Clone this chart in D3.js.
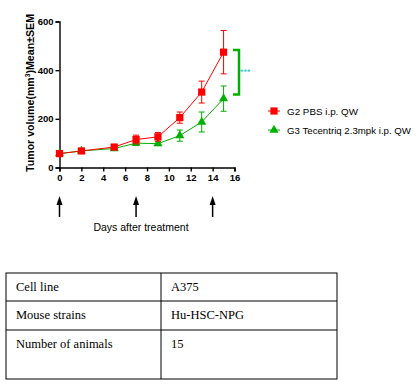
<!DOCTYPE html>
<meta charset="utf-8">
<style>
body { margin: 0; background: #fff; }
svg { display: block; font-family: "Liberation Sans", Arial, sans-serif; }
.tick text { font-weight: bold; font-size: 9.5px; }
</style>
<body>
<script src="https://d3js.org/d3.v7.min.js"></script>
<svg width="420" height="386"></svg>
<script>

var days = [0, 2, 5, 7, 9, 11, 13, 15];
var pbsMean = [57, 68, 84, 115, 126, 205, 310, 474];
var pbsSem  = [6, 5, 10, 18, 18, 23, 45, 89];
var tecMean = [57, 68, 78, 100, 98, 131, 187, 283];
var tecSem  = [5, 5, 8, 10, 8, 23, 41, 52];
var doseDays = [0, 7, 14];
var xTicks = [0, 2, 4, 6, 8, 10, 12, 14, 16];
var yTicks = [0, 200, 400, 600];
var legendNames = ["G2 PBS i.p. QW", "G3 Tecentriq 2.3mpk i.p. QW"];
var tableRows = [["Cell line", "A375"], ["Mouse strains", "Hu-HSC-NPG"], ["Number of animals", "15"]];

var svg = d3.select("svg");

var x = d3.scaleLinear().domain([0, 16]).range([59.5, 234.5]);
var y = d3.scaleLinear().domain([0, 600]).range([167.5, 21.5]);

// axes
svg.append("g")
    .attr("transform", "translate(59.5,0)")
    .call(d3.axisLeft(y).tickValues(yTicks).tickSize(4).tickPadding(2))
    .call(g => g.select(".domain").attr("stroke-width", 1.4))
    .call(g => g.selectAll(".tick line").attr("stroke-width", 1.4));

svg.append("g")
    .attr("transform", "translate(0,167.5)")
    .call(d3.axisBottom(x).tickValues(xTicks).tickSize(4).tickPadding(3))
    .call(g => g.select(".domain").attr("stroke-width", 1.4))
    .call(g => g.selectAll(".tick line").attr("stroke-width", 1.4));

svg.append("text")
    .attr("transform", "translate(34,93) rotate(-90)")
    .attr("text-anchor", "middle")
    .attr("font-weight", "bold")
    .attr("font-size", "10.5px")
    .attr("textLength", 158)
    .attr("lengthAdjust", "spacingAndGlyphs")
    .html("Tumor volume(mm<tspan dy='-4' font-size='6.5px'>3</tspan><tspan dy='4'>)Mean±SEM</tspan>");

var series = [
  { mean: pbsMean, sem: pbsSem, color: "#ff0000", shape: d3.symbolSquare, size: 52 },
  { mean: tecMean, sem: tecSem, color: "#00b000", shape: d3.symbolTriangle, size: 36 }
];

var line = d3.line().x((d, i) => x(days[i])).y(d => y(d));

series.slice().reverse().forEach(function(s) {
  var g = svg.append("g");
  g.append("path")
      .attr("d", line(s.mean))
      .attr("fill", "none")
      .attr("stroke", s.color)
      .attr("stroke-width", 1);
  var pts = g.selectAll(".pt").data(s.mean).enter().append("g")
      .attr("transform", (d, i) => "translate(" + x(days[i]) + ",0)");
  pts.append("line")
      .attr("y1", (d, i) => y(d + s.sem[i]))
      .attr("y2", (d, i) => y(d - s.sem[i]))
      .attr("stroke", s.color).attr("stroke-width", 1);
  pts.append("line")
      .attr("x1", -3).attr("x2", 3)
      .attr("y1", (d, i) => y(d + s.sem[i])).attr("y2", (d, i) => y(d + s.sem[i]))
      .attr("stroke", s.color).attr("stroke-width", 1);
  pts.append("line")
      .attr("x1", -3).attr("x2", 3)
      .attr("y1", (d, i) => y(d - s.sem[i])).attr("y2", (d, i) => y(d - s.sem[i]))
      .attr("stroke", s.color).attr("stroke-width", 1);
  pts.append("path")
      .attr("transform", d => "translate(0," + y(d) + ")")
      .attr("d", d3.symbol().type(s.shape).size(s.size))
      .attr("fill", s.color);
});

// significance bracket
svg.append("path")
    .attr("d", "M233," + y(483) + "H239V" + y(300) + "H233")
    .attr("fill", "none")
    .attr("stroke", "#00b000")
    .attr("stroke-width", 2.5);
svg.append("text")
    .attr("x", 240).attr("y", 75)
    .attr("font-size", "9px")
    .attr("fill", "#22bbcc")
    .text("***");

// legend
var legendWidths = [71, 124];
var leg = svg.append("g").attr("transform", "translate(268,111)");
legendNames.forEach(function(name, i) {
  var s = series[i];
  var row = leg.append("g").attr("transform", "translate(0," + (i * 19) + ")");
  row.append("line").attr("x1", 0).attr("x2", 12)
      .attr("stroke", s.color).attr("stroke-width", 1);
  row.append("path").attr("transform", "translate(6,0)")
      .attr("d", d3.symbol().type(s.shape).size(s.size)).attr("fill", s.color);
  row.append("text").attr("x", 19).attr("y", 4)
      .attr("font-size", "9.6px")
      .attr("textLength", legendWidths[i])
      .attr("lengthAdjust", "spacingAndGlyphs")
      .text(name);
});

// dosing arrows
var arrows = svg.append("g");
doseDays.forEach(function(d) {
  var ax = x(d);
  arrows.append("line").attr("x1", ax).attr("x2", ax)
      .attr("y1", 203).attr("y2", 217)
      .attr("stroke", "#000").attr("stroke-width", 1.5);
  arrows.append("path")
      .attr("d", "M" + (ax - 3) + ",205L" + ax + ",196L" + (ax + 3) + ",205Z")
      .attr("fill", "#000");
});

svg.append("text")
    .attr("x", 141).attr("y", 231)
    .attr("text-anchor", "middle")
    .attr("font-size", "10.5px")
    .text("Days after treatment");

// table
var colX = [6, 161, 337];
var rowY = [273, 301, 330, 379];
var tbl = svg.append("g").attr("font-family", "'Liberation Serif', 'Times New Roman', serif")
    .attr("font-size", "12.5px");
tbl.append("rect")
    .attr("x", colX[0]).attr("y", rowY[0])
    .attr("width", colX[2] - colX[0]).attr("height", rowY[3] - rowY[0])
    .attr("fill", "none").attr("stroke", "#000");
tbl.append("line").attr("x1", colX[1]).attr("x2", colX[1])
    .attr("y1", rowY[0]).attr("y2", rowY[3]).attr("stroke", "#000");
[rowY[1], rowY[2]].forEach(function(ry) {
  tbl.append("line").attr("x1", colX[0]).attr("x2", colX[2])
      .attr("y1", ry).attr("y2", ry).attr("stroke", "#000");
});
tableRows.forEach(function(r, i) {
  tbl.append("text").attr("x", 16).attr("y", rowY[i] + 18).text(r[0]);
  tbl.append("text").attr("x", 171).attr("y", rowY[i] + 18).text(r[1]);
});

</script>
</body>
